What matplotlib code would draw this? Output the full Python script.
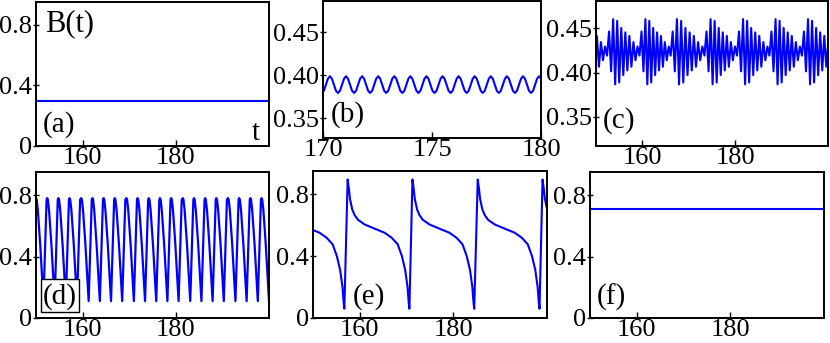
import numpy as np
import matplotlib
matplotlib.use('Agg')
from matplotlib import pyplot as plt
from matplotlib.patches import Rectangle

plt.rcParams['font.family'] = ['Liberation Serif', 'DejaVu Serif']

BLUE = '#0000ff'

# (a) and (f): steady states
a_t = [150, 200]
a_B = [0.30, 0.30]
f_t = [150, 200]
f_B = [0.71, 0.71]

# (b): small periodic oscillation, one period sampled in eighths starting at a peak
b_t0 = 169.58
b_period = 0.738
b_cycles = 15
b_cycle = [0.399, 0.396, 0.389, 0.382, 0.3795, 0.382, 0.389, 0.396]

# (c): fast oscillation in bursts; burst starts and per-cycle half amplitude
c_bursts = [145.6, 152.6, 159.6, 166.3, 173.6, 180.6, 187.6, 194.6, 201.6]
c_amp = [0.022, 0.036, 0.034, 0.026, 0.021, 0.017, 0.010, 0.005]
c_center = 0.4245

# (d): peaks of the large oscillation and the shape of one cycle after each peak
d_peaks = [150.0, 152.4, 154.8, 157.2, 159.7, 162.1, 164.5, 166.9, 169.4, 171.8,
           174.2, 176.6, 179.0, 181.5, 183.9, 186.3, 188.7, 191.2, 193.6, 196.0, 198.4]
d_u = [0, 0.15, 0.4, 0.9, 1.35, 1.6, 2.0, 2.27]
d_v = [0.78, 0.77, 0.70, 0.48, 0.24, 0.11, 0.50, 0.77]

# (e): relaxation oscillation, peaks and shape of one cycle after each peak
e_peaks = [143.5, 157.4, 171.25, 185.2, 199.05]
e_u = [0, 0.25, 0.5, 1.0, 1.5, 2.2, 3.6, 5.8, 7.9, 9.4, 10.7, 11.6, 12.3, 12.8, 13.05, 13.2]
e_v = [0.895, 0.84, 0.77, 0.70, 0.665, 0.635, 0.605, 0.577, 0.551, 0.519, 0.476,
       0.40, 0.31, 0.20, 0.10, 0.06]

W, H = 830, 343
fig = plt.figure(figsize=(W / 100, H / 100), dpi=100)


def make_ax(left, right, top, bottom):
    return fig.add_axes([left / W, 1 - bottom / H, (right - left) / W, (bottom - top) / H])


def style(ax, xlim, ylim, xticks, yticks, ylabels):
    ax.set_xlim(*xlim)
    ax.set_ylim(*ylim)
    ax.set_xticks(xticks)
    ax.set_yticks(yticks)
    ax.set_yticklabels(ylabels)
    for s in ax.spines.values():
        s.set_linewidth(1.4)
    ax.tick_params(axis='x', direction='in', length=4, width=1, labelsize=19, pad=1)
    ax.tick_params(axis='y', direction='inout', length=5, width=1, labelsize=19, pad=0.5)


def label(ax, x, y, s, size=21, **kw):
    ax.text(x, y, s, transform=ax.transAxes, fontsize=size, va='baseline', **kw)


axs = {
    'a': make_ax(36, 269, 2, 146),
    'b': make_ax(323, 541, 1, 138),
    'c': make_ax(596, 828, 1, 146),
    'd': make_ax(36, 269, 172, 318),
    'e': make_ax(313, 547, 171, 318),
    'f': make_ax(590, 824, 172, 318),
}

big_ticks = ([0, 0.4, 0.8], ['0', '0.4', '0.8'])
small_ticks = ([0.35, 0.40, 0.45], ['0.35', '0.40', '0.45'])

# (a)
ax = axs['a']
ax.plot(a_t, a_B, color=BLUE, lw=1.5)
style(ax, (150, 200), (0, 0.95), [160, 180], *big_ticks)
label(ax, 0.039, 0.794, 'B(t)', size=22)
label(ax, 0.029, 0.099, '(a)')
label(ax, 0.961, 0.042, 't', ha='right')

# (b)
ax = axs['b']
bt = b_t0 + b_period * np.arange(b_cycles * len(b_cycle)) / len(b_cycle)
bv = np.tile(b_cycle, b_cycles)
ax.plot(bt, bv, color=BLUE, lw=1.5)
style(ax, (170, 180), (0.327, 0.4866), [170, 175, 180], *small_ticks)
label(ax, 0.037, 0.119, '(b)')

# (c)
ax = axs['c']
ct, cv = [], []
for b0, b1 in zip(c_bursts[:-1], c_bursts[1:]):
    p = (b1 - b0) / len(c_amp)
    for i, amp in enumerate(c_amp):
        ct += [b0 + (i + 0.25) * p, b0 + (i + 0.75) * p]
        cv += [c_center + amp, c_center - 1.05 * amp]
ax.plot(ct, cv, color=BLUE, lw=1.5)
style(ax, (150, 200), (0.317, 0.481), [160, 180], *small_ticks)
label(ax, 0.03, 0.124, '(c)')

# (d)
ax = axs['d']
dt = np.concatenate([pk + np.array(d_u) for pk in d_peaks])
dv = np.tile(d_v, len(d_peaks))
ax.plot(dt, dv, color=BLUE, lw=1.6)
style(ax, (150, 200), (0, 0.95), [160, 180], *big_ticks)
ax.add_patch(Rectangle((0.020, 0.043), 0.163, 0.224, transform=ax.transAxes,
                       facecolor='white', edgecolor='black', lw=1.0, zorder=3))
ax.text(0.102, 0.150, '(d)', transform=ax.transAxes, fontsize=21,
        ha='center', va='center', zorder=4)

# (e)
ax = axs['e']
et = np.concatenate([pk + np.array(e_u) for pk in e_peaks])
ev = np.tile(e_v, len(e_peaks))
ax.plot(et, ev, color=BLUE, lw=1.5)
style(ax, (150, 200), (0, 0.95), [160, 180], *big_ticks)
label(ax, 0.17, 0.10, '(e)')

# (f)
ax = axs['f']
ax.plot(f_t, f_B, color=BLUE, lw=1.5)
style(ax, (150, 200), (0, 0.95), [160, 180], *big_ticks)
label(ax, 0.029, 0.089, '(f)')

fig.savefig('out.png', dpi=100)
